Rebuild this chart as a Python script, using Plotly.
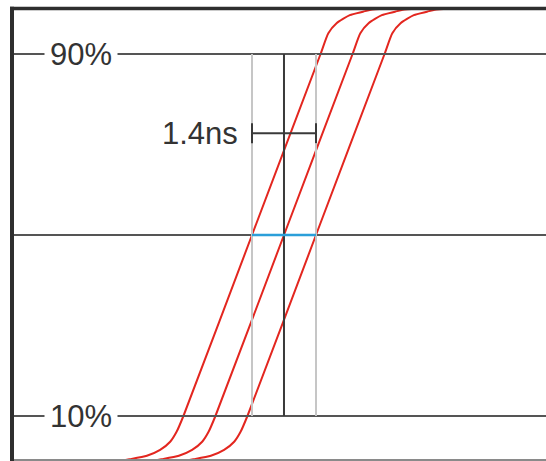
import plotly.graph_objects as go

# Edge profile of one rising edge: time relative to its 50% crossing (ns), level (%)
profile_t = [-3.5, -2.82, -2.67, -2.3, -2.01, -1.79, -1.65, -1.5, 0.0, 1.5, 1.67, 1.85, 2.14, 2.43, 2.6, 2.9]
profile_v = [0.0, 0.2, 0.45, 1.2, 2.5, 4.3, 6.5, 10.0, 50.0, 90.0, 94.6, 96.8, 98.6, 99.35, 99.8, 100.0]
# 50% crossing time of each of the three edges (ns)
edge_offsets = [-0.7, 0.0, 0.7]

level_labels = ["90%", "10%"]
level_values = [90, 10]
mid_level = 50
skew_ns = 1.4
skew_label = "1.4ns"

W, H = 546, 461
X_RANGE = [-6.213, 5.732]
Y_RANGE = [0.055, 101.934]

fig = go.Figure()

RED = "#e3261f"
DARK = "#3a3a3a"
GRID = "#555555"
LIGHT = "#c6c6c6"
BLUE = "#2b9fd9"

LEFT = 12 / W

shapes = []
# Horizontal reference lines (90%, 10%, 50%)
for v in level_values + [mid_level]:
    shapes.append(dict(type="line", xref="paper", yref="y", x0=LEFT, x1=1, y0=v, y1=v,
                       line=dict(color=GRID, width=2)))

lo, hi = min(level_values), max(level_values)
# Vertical lines at edge crossings
for off in edge_offsets:
    col = DARK if off == 0 else LIGHT
    shapes.append(dict(type="line", xref="x", yref="y", x0=off, x1=off, y0=lo, y1=hi,
                       line=dict(color=col, width=2)))

# Blue segment at 50%
shapes.append(dict(type="line", xref="x", yref="y", x0=edge_offsets[0], x1=edge_offsets[-1],
                   y0=mid_level, y1=mid_level, line=dict(color=BLUE, width=2.5)))

# Skew dimension marker
my = 72.5
half = skew_ns / 2
shapes.append(dict(type="line", xref="x", yref="y", x0=-half, x1=half, y0=my, y1=my,
                   line=dict(color=DARK, width=2)))
for xx in (-half, half):
    shapes.append(dict(type="line", xref="x", yref="y", x0=xx, x1=xx, y0=my - 2.2, y1=my + 2.2,
                       line=dict(color=DARK, width=2)))

for off in edge_offsets:
    fig.add_trace(go.Scatter(x=[t + off for t in profile_t], y=profile_v, mode="lines",
                             line=dict(color=RED, width=2, shape="spline", smoothing=0.6),
                             hoverinfo="skip", showlegend=False))

# Frame (drawn above the curves)
shapes.append(dict(type="line", xref="paper", yref="paper", x0=10 / W, x1=1,
                   y0=1 - 8.5 / H, y1=1 - 8.5 / H,
                   line=dict(color="#2e2e2e", width=3.5), layer="above"))
shapes.append(dict(type="line", xref="paper", yref="paper", x0=LEFT, x1=1, y0=1 / H, y1=1 / H,
                   line=dict(color="#8a8a8a", width=2), layer="above"))
shapes.append(dict(type="line", xref="paper", yref="paper", x0=LEFT, x1=LEFT, y0=0,
                   y1=1 - 6.8 / H, line=dict(color="#2e2e2e", width=4), layer="above"))

FONT = dict(family="Liberation Sans, Arial, sans-serif", size=31, color="#333333")
annotations = []
for lab, v in zip(level_labels, level_values):
    annotations.append(dict(x=-4.45, y=v, xref="x", yref="y", text=lab, showarrow=False,
                            font=FONT, bgcolor="white", borderpad=5,
                            xanchor="center", yanchor="middle"))
annotations.append(dict(x=-0.96, y=my, xref="x", yref="y", text=skew_label, showarrow=False,
                        font=FONT, xanchor="right", yanchor="middle"))

fig.update_layout(
    width=W, height=H,
    margin=dict(l=0, r=0, t=0, b=0, pad=0),
    paper_bgcolor="white", plot_bgcolor="white",
    xaxis=dict(range=X_RANGE, visible=False, fixedrange=True),
    yaxis=dict(range=Y_RANGE, visible=False, fixedrange=True),
    shapes=shapes,
    annotations=annotations,
    showlegend=False,
)

fig.write_html("out.html", config={"displayModeBar": False},
               post_script="document.body.style.margin='0';document.body.style.overflow='hidden';")
